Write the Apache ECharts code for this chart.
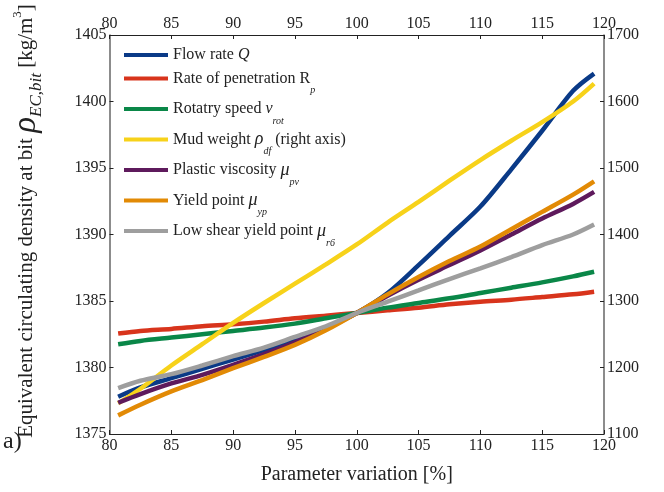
<!DOCTYPE html>
<html>
<head>
<meta charset="utf-8">
<script src="https://cdn.jsdelivr.net/npm/echarts@6/dist/echarts.min.js"></script>
<style>
  html, body { margin: 0; padding: 0; background: #fff; }
  #ecdChart { width: 664px; height: 492px; }
</style>
</head>
<body>
<div id="ecdChart"></div>
<script>
// parameter variation [%]
var variation = [80.7, 82.5, 85, 87.5, 90, 92.5, 95, 97.5, 100, 102.5, 105, 107.5, 110, 112.5, 115, 117.5, 119.2];

// equivalent circulating density at bit [kg/m3] (left axis)
var flowRate    = [1377.8, 1378.5, 1379.2, 1379.9, 1380.6, 1381.3, 1382.0, 1383.0, 1384.1, 1385.6, 1387.7, 1389.9, 1392.1, 1394.9, 1397.8, 1400.8, 1402.1];
var penetration = [1382.55, 1382.75, 1382.9, 1383.1, 1383.25, 1383.45, 1383.7, 1383.9, 1384.1, 1384.3, 1384.5, 1384.75, 1384.95, 1385.1, 1385.3, 1385.5, 1385.7];
var rotarySpeed = [1381.75, 1382.0, 1382.25, 1382.5, 1382.75, 1383.0, 1383.3, 1383.7, 1384.1, 1384.5, 1384.85, 1385.2, 1385.6, 1386.0, 1386.4, 1386.85, 1387.2];
var plasticVisc = [1377.35, 1378.0, 1378.8, 1379.45, 1380.2, 1381.0, 1381.9, 1382.9, 1384.1, 1385.4, 1386.6, 1387.7, 1388.8, 1390.0, 1391.2, 1392.3, 1393.2];
var yieldPoint  = [1376.4, 1377.2, 1378.2, 1379.05, 1379.95, 1380.8, 1381.7, 1382.8, 1384.1, 1385.5, 1386.8, 1388.0, 1389.1, 1390.4, 1391.7, 1393.0, 1394.0];
var lowShearYp  = [1378.45, 1379.0, 1379.5, 1380.15, 1380.85, 1381.5, 1382.3, 1383.1, 1384.1, 1384.95, 1385.8, 1386.65, 1387.45, 1388.3, 1389.2, 1390.0, 1390.75];

// mud weight [kg/m3] (right axis)
var mudWeight   = [1146, 1168, 1203, 1235, 1267, 1297, 1326, 1355, 1385, 1418, 1449, 1481, 1512, 1541, 1569, 1600, 1627];

// axis ticks: [min, max, step]
var xTicks = [80, 120, 5];
var leftTicks = [1375, 1405, 5];
var rightTicks = [1100, 1700, 100];

var serif = 'Liberation Serif';

function pairs(vals) {
  return variation.map(function (x, i) { return [x, vals[i]]; });
}

// legend labels with italic symbols / subscripts
var legendText = {
  'Flow rate Q': 'Flow rate {it|Q}',
  'Rate of penetration Rp': 'Rate of penetration R{sub|p}',
  'Rotatry speed vrot': 'Rotatry speed {it|v}{sub|rot}',
  'Mud weight': 'Mud weight {rho|ρ}{sub|df} (right axis)',
  'Plastic viscosity': 'Plastic viscosity {rho|μ}{sub|pv}',
  'Yield point': 'Yield point {rho|μ}{sub|yp}',
  'Low shear yield point': 'Low shear yield point {rho|μ}{sub|r6}'
};

function line(name, vals, color, axisIdx) {
  return {
    name: name,
    type: 'line',
    yAxisIndex: axisIdx || 0,
    data: pairs(vals),
    showSymbol: false,
    smooth: 0.3,
    color: color,
    lineStyle: { width: 4.5, color: color }
  };
}

// plain numbers, no thousands separator
var tickLabel = {
  fontFamily: serif, fontSize: 16, color: '#222',
  formatter: function (v) { return String(v); }
};

var chart = echarts.init(document.getElementById('ecdChart'));
chart.setOption({
  animation: false,
  backgroundColor: '#fff',
  grid: { left: 107, right: 60, top: 35, bottom: 58 },
  legend: {
    orient: 'vertical',
    left: 124,
    top: 45,
    padding: 0,
    itemWidth: 44,
    itemHeight: 4,
    itemGap: -3.5,
    icon: 'rect',
    formatter: function (n) { return legendText[n]; },
    textStyle: {
      fontFamily: serif, fontSize: 16, lineHeight: 20, color: '#222',
      rich: {
        it: { fontFamily: serif, fontSize: 16, lineHeight: 20, fontStyle: 'italic' },
        rho: { fontFamily: serif, fontSize: 18, lineHeight: 20, fontStyle: 'italic' },
        sub: { fontFamily: serif, fontSize: 10, lineHeight: 10, fontStyle: 'italic', padding: [24, 0, 0, 0] }
      }
    }
  },
  graphic: [{
    type: 'text', left: 3, top: 430,
    style: { text: 'a)', fontFamily: serif, fontSize: 24, fill: '#222' }
  }],
  xAxis: [{
    type: 'value', position: 'bottom',
    min: xTicks[0], max: xTicks[1], interval: xTicks[2],
    name: 'Parameter variation [%]',
    nameLocation: 'middle', nameGap: 31,
    nameTextStyle: { fontFamily: serif, fontSize: 20, color: '#222' },
    axisLine: { lineStyle: { color: '#222', width: 1 } },
    axisTick: { inside: true, length: 4, lineStyle: { color: '#222' } },
    axisLabel: Object.assign({ margin: 4 }, tickLabel),
    splitLine: { show: false }
  }, {
    type: 'value', position: 'top',
    min: xTicks[0], max: xTicks[1], interval: xTicks[2],
    axisLine: { lineStyle: { color: '#222', width: 1 } },
    axisTick: { inside: true, length: 4, lineStyle: { color: '#222' } },
    axisLabel: Object.assign({ margin: 3 }, tickLabel),
    splitLine: { show: false }
  }],
  yAxis: [{
    type: 'value', position: 'left',
    min: leftTicks[0], max: leftTicks[1], interval: leftTicks[2],
    name: 'Equivalent circulating density at bit {rho|ρ}{sub|EC,bit} [kg/m{sup|3}]',
    nameLocation: 'middle', nameGap: 71,
    nameTextStyle: {
      fontFamily: serif, fontSize: 21, lineHeight: 24, color: '#222',
      padding: [0, 0, 0, 27],
      rich: {
        rho: { fontFamily: serif, fontSize: 33, lineHeight: 24, fontStyle: 'italic' },
        sub: { fontFamily: serif, fontSize: 17, lineHeight: 17, fontStyle: 'italic', padding: [20, 0, 0, 0] },
        sup: { fontFamily: serif, fontSize: 13, lineHeight: 13, padding: [0, 0, 18, 0] }
      }
    },
    axisLine: { show: true, lineStyle: { color: '#666', width: 1.5 } },
    axisTick: { show: true, inside: true, length: 4, lineStyle: { color: '#222' } },
    axisLabel: Object.assign({ margin: 3 }, tickLabel),
    splitLine: { show: false }
  }, {
    type: 'value', position: 'right',
    min: rightTicks[0], max: rightTicks[1], interval: rightTicks[2],
    axisLine: { show: true, lineStyle: { color: '#666', width: 1.5 } },
    axisTick: { show: true, inside: true, length: 4, lineStyle: { color: '#222' } },
    axisLabel: Object.assign({ margin: 3 }, tickLabel),
    splitLine: { show: false }
  }],
  series: [
    line('Flow rate Q', flowRate, '#0a3a87'),
    line('Rate of penetration Rp', penetration, '#d8341c'),
    line('Rotatry speed vrot', rotarySpeed, '#0a8748'),
    line('Mud weight', mudWeight, '#f7d21a', 1),
    line('Plastic viscosity', plasticVisc, '#5e1a5c'),
    line('Yield point', yieldPoint, '#e28a05'),
    line('Low shear yield point', lowShearYp, '#9e9e9e')
  ]
});
</script>
</body>
</html>
